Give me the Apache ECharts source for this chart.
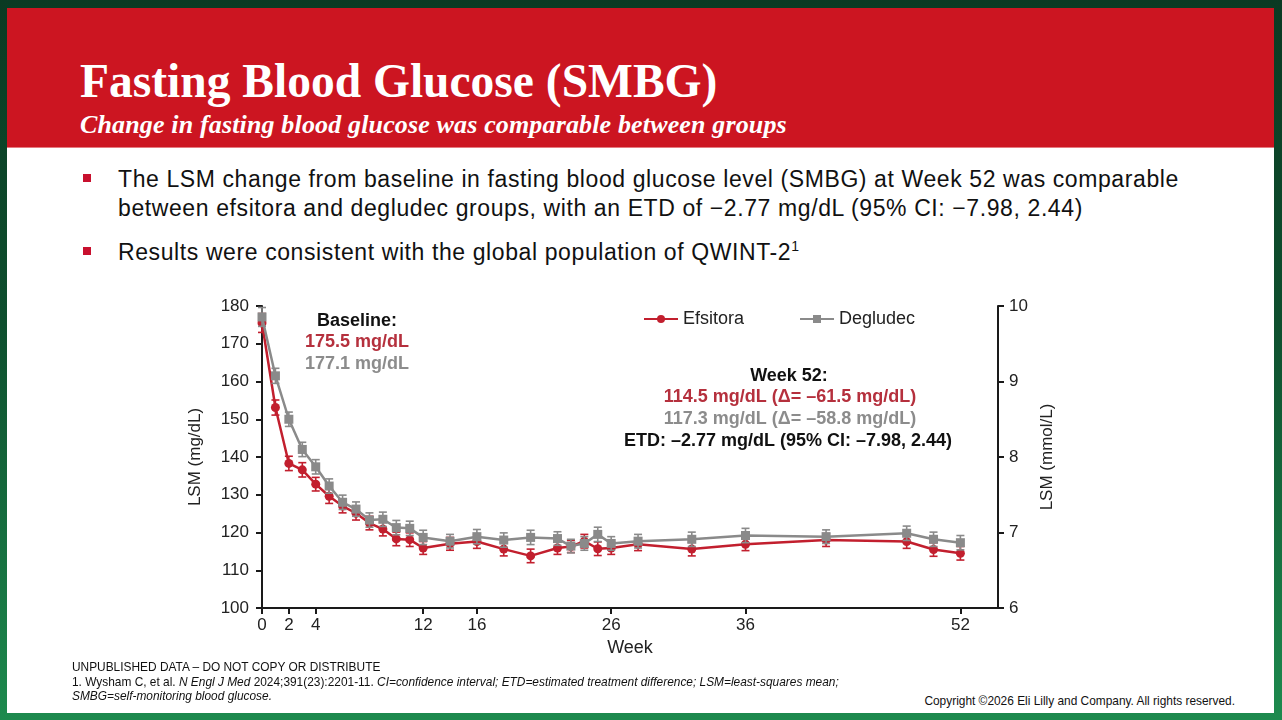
<!DOCTYPE html>
<html>
<head>
<meta charset="utf-8">
<script src="https://cdn.jsdelivr.net/npm/echarts@6/dist/echarts.min.js"></script>
<style>
  html, body { margin: 0; padding: 0; }
  body {
    width: 1282px; height: 720px; overflow: hidden; position: relative;
    background: linear-gradient(to bottom, #0a3a23 0%, #0e4f2e 45%, #1d8a4e 100%);
    font-family: "Liberation Sans", Arial, sans-serif;
  }
  .slide { position: absolute; left: 7px; top: 8px; width: 1267px; height: 705px; background: #fff; }
  .banner { position: absolute; left: 0; top: 0; width: 1267px; height: 139px; background: #cc1521; border-bottom: 1px solid #e67a80; }
  .title {
    position: absolute; left: 73px; top: 50px; margin: 0;
    font: bold 47.5px/47px "Liberation Serif", "Times New Roman", serif; color: #fff; white-space: nowrap;
  }
  .subtitle {
    position: absolute; left: 73px; top: 104px; margin: 0; letter-spacing: 0.15px;
    font: italic bold 26px/26px "Liberation Serif", "Times New Roman", serif; color: #fff; white-space: nowrap;
  }
  .bullet { position: absolute; left: 111px; font-size: 23px; line-height: 29px; letter-spacing: 0.6px; color: #111; white-space: nowrap; }
  .sq { position: absolute; left: 76px; width: 8px; height: 8px; background: #c8102e; }
  .foot { position: absolute; left: 65px; font-size: 11.9px; line-height: 14.5px; color: #111; white-space: nowrap; }
  .copy { position: absolute; right: 39px; top: 686px; font-size: 11.9px; color: #111; white-space: nowrap; }
  #chart { position: absolute; left: 163px; top: 282px; width: 900px; height: 375px; }
</style>
</head>
<body>
<div class="slide">
  <div class="banner">
    <div class="title">Fasting Blood Glucose (SMBG)</div>
    <div class="subtitle">Change in fasting blood glucose was comparable between groups</div>
  </div>
  <div class="sq" style="top:166px"></div>
  <div class="bullet" style="top:157px">The LSM change from baseline in fasting blood glucose level (SMBG) at Week 52 was comparable<br>between efsitora and degludec groups, with an ETD of −2.77 mg/dL (95% CI: −7.98, 2.44)</div>
  <div class="sq" style="top:239px"></div>
  <div class="bullet" style="top:230px">Results were consistent with the global population of QWINT-2<sup style="font-size:14px;line-height:0">1</sup></div>
  <div id="chart"></div>
  <div class="foot" style="top:652px">UNPUBLISHED DATA – DO NOT COPY OR DISTRIBUTE<br>1. Wysham C, et al. <i>N Engl J Med</i> 2024;391(23):2201-11. <i>CI=confidence interval; ETD=estimated treatment difference; LSM=least-squares mean;<br>SMBG=self-monitoring blood glucose.</i></div>
  <div class="copy">Copyright ©2026 Eli Lilly and Company. All rights reserved.</div>
</div>
<script>
var weeks = [0, 1, 2, 3, 4, 5, 6, 7, 8, 9, 10, 11, 12, 14, 16, 18, 20, 22, 23, 24, 25, 26, 28, 32, 36, 42, 48, 50, 52];
var efsitora = [175.5, 153.1, 138.3, 136.6, 132.8, 129.6, 127.0, 125.1, 122.5, 120.9, 118.3, 118.1, 115.9, 117.0, 117.6, 115.6, 113.8, 115.9, 116.3, 117.7, 115.7, 115.9, 116.9, 115.6, 116.9, 118.0, 117.6, 115.5, 114.5];
var efsitoraErr = [2.5, 2.0, 1.9, 1.9, 1.8, 1.9, 1.8, 1.8, 1.8, 1.8, 1.8, 1.8, 1.7, 1.7, 1.8, 1.8, 1.8, 1.7, 1.6, 1.8, 1.8, 1.7, 1.7, 1.8, 1.7, 1.7, 1.8, 1.8, 1.8];
var degludec = [177.1, 161.5, 150.0, 142.0, 137.4, 132.3, 128.0, 126.2, 123.3, 123.5, 121.3, 121.1, 118.7, 117.7, 118.9, 118.0, 118.7, 118.4, 116.4, 117.1, 119.5, 117.1, 117.7, 118.2, 119.2, 118.9, 119.8, 118.2, 117.3];
var degludecErr = [2.5, 2.0, 1.9, 1.9, 1.9, 1.9, 1.9, 1.9, 1.9, 1.9, 1.9, 1.9, 1.9, 1.8, 1.9, 1.9, 1.9, 1.8, 1.8, 1.8, 1.9, 1.8, 1.8, 1.9, 1.9, 1.8, 1.9, 1.9, 1.9];
var weekTicks = [0, 2, 4, 12, 16, 26, 36, 52];

var RED = '#c21f2e';
var GRAY = '#8a8a8a';
var FONT = '"Liberation Sans", Arial, sans-serif';

function pairs(vals) {
  return weeks.map(function (w, i) { return [w, vals[i]]; });
}
function bars(vals, errs) {
  return weeks.map(function (w, i) { return [w, vals[i] - errs[i], vals[i] + errs[i]]; });
}

function renderErr(params, api) {
  var x = api.value(0);
  var top = api.coord([x, api.value(2)]);
  var bot = api.coord([x, api.value(1)]);
  var cap = 4;
  var st = { stroke: api.visual('color'), lineWidth: 1.6 };
  return {
    type: 'group',
    children: [
      { type: 'line', shape: { x1: top[0], y1: top[1], x2: bot[0], y2: bot[1] }, style: st },
      { type: 'line', shape: { x1: top[0] - cap, y1: top[1], x2: top[0] + cap, y2: top[1] }, style: st },
      { type: 'line', shape: { x1: bot[0] - cap, y1: bot[1], x2: bot[0] + cap, y2: bot[1] }, style: st },
    ],
  };
}

function label(txt, x, y, color) {
  return {
    type: 'text', x: x, y: y,
    style: {
      text: txt, fill: color, font: 'bold 18px ' + FONT,
      textAlign: 'center', textVerticalAlign: 'middle', align: 'center', verticalAlign: 'middle',
    },
  };
}

var chart = echarts.init(document.getElementById('chart'));

var axisLine = { show: true, lineStyle: { color: '#1a1a1a', width: 2 } };
var axisTick = { show: true, length: 6, lineStyle: { color: '#1a1a1a', width: 2 } };

var option = {
  animation: false,
  backgroundColor: 'transparent',
  textStyle: { fontFamily: FONT },
  grid: { left: 92, right: 72, top: 16, bottom: 57, containLabel: false, outerBoundsMode: 'none' },
  legend: {
    data: ['Efsitora', 'Degludec'],
    left: 468, top: 15,
    itemWidth: 34, itemHeight: 10, itemGap: 55,
    textStyle: { fontSize: 18, color: '#222', fontFamily: FONT },
  },
  xAxis: {
    type: 'value', min: 0, max: 54.8,
    name: 'Week', nameLocation: 'middle', nameGap: 31,
    nameTextStyle: { fontSize: 18, color: '#222' },
    axisLine: axisLine,
    axisTick: { show: true, length: 6, lineStyle: { color: '#1a1a1a', width: 2 }, customValues: weekTicks },
    axisLabel: { fontSize: 17, color: '#222', margin: 9, customValues: weekTicks },
    splitLine: { show: false },
  },
  yAxis: [
    {
      type: 'value', min: 100, max: 180, interval: 10,
      name: 'LSM (mg/dL)', nameLocation: 'middle', nameGap: 58, nameRotate: 90,
      nameTextStyle: { fontSize: 17, color: '#222' },
      axisLine: axisLine, axisTick: axisTick,
      axisLabel: { fontSize: 17, color: '#222', margin: 13 },
      splitLine: { show: false },
    },
    {
      type: 'value', min: 6, max: 10, interval: 1, position: 'right',
      name: 'LSM (mmol/L)', nameLocation: 'middle', nameGap: 38, nameRotate: 90,
      nameTextStyle: { fontSize: 17, color: '#222' },
      axisLine: axisLine, axisTick: axisTick,
      axisLabel: { fontSize: 17, color: '#222', margin: 11 },
      splitLine: { show: false },
    },
  ],
  graphic: [
    label('Baseline:', 187, 31, '#111'),
    label('175.5 mg/dL', 187, 52, '#b5303d'),
    label('177.1 mg/dL', 187, 74, '#8c8c8c'),
    label('Week 52:', 619, 86, '#111'),
    label('114.5 mg/dL (Δ= –61.5 mg/dL)', 620, 107, '#b5303d'),
    label('117.3 mg/dL (Δ= –58.8 mg/dL)', 620, 129, '#8c8c8c'),
    label('ETD: –2.77 mg/dL (95% CI: –7.98, 2.44)', 618, 151, '#111'),
  ],
  series: [
    {
      name: 'Efsitora SE', type: 'custom', renderItem: renderErr,
      itemStyle: { color: RED }, data: bars(efsitora, efsitoraErr), z: 2,
    },
    {
      name: 'Efsitora', type: 'line', data: pairs(efsitora),
      symbol: 'circle', symbolSize: 9,
      lineStyle: { color: RED, width: 2.5 }, itemStyle: { color: RED }, z: 3,
    },
    {
      name: 'Degludec SE', type: 'custom', renderItem: renderErr,
      itemStyle: { color: GRAY }, data: bars(degludec, degludecErr), z: 4,
    },
    {
      name: 'Degludec', type: 'line', data: pairs(degludec),
      symbol: 'rect', symbolSize: 9,
      lineStyle: { color: GRAY, width: 2.5 }, itemStyle: { color: GRAY }, z: 5,
    },
  ],
};

chart.setOption(option);
</script>
</body>
</html>
